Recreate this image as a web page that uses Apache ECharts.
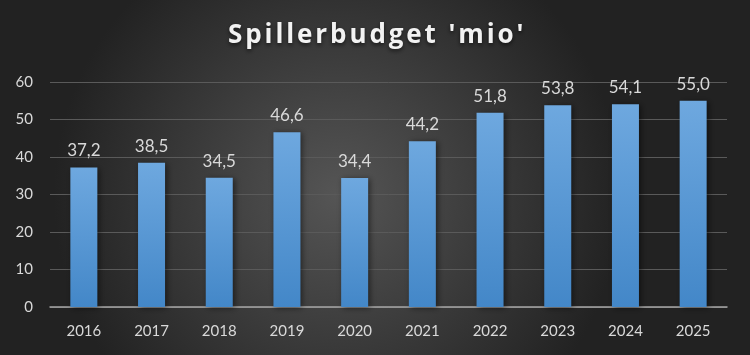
<!DOCTYPE html>
<html>
<head>
<meta charset="utf-8">
<script src="https://cdn.jsdelivr.net/npm/echarts@6/dist/echarts.min.js"></script>
<style>html,body{margin:0;padding:0;}#c{width:750px;height:355px;}</style>
</head>
<body>
<div id="c"></div>
<script>
const categories = ['2016','2017','2018','2019','2020','2021','2022','2023','2024','2025'];
const values = [37.2, 38.5, 34.5, 46.6, 34.4, 44.2, 51.8, 53.8, 54.1, 55.0];
const yTicks = [0, 10, 20, 30, 40, 50, 60];

// widen the title's letter spacing (title is the only text set in Open Sans)
(function () {
  const proto = CanvasRenderingContext2D.prototype;
  const orig = proto.fillText;
  proto.fillText = function (t, x, y, mw) {
    if (this.font && this.font.indexOf('Open Sans') >= 0 && 'letterSpacing' in this) {
      const prev = this.letterSpacing;
      this.letterSpacing = '2.9px';
      const r = mw === undefined ? orig.call(this, t, x, y) : orig.call(this, t, x, y, mw);
      this.letterSpacing = prev;
      return r;
    }
    return mw === undefined ? orig.call(this, t, x, y) : orig.call(this, t, x, y, mw);
  };
})();

const chart = echarts.init(document.getElementById('c'));
chart.setOption({
  backgroundColor: new echarts.graphic.RadialGradient(0.45, 0.55, 0.8, [
    {offset: 0, color: '#555555'},
    {offset: 1, color: '#222222'}
  ]),
  title: {
    text: "Spillerbudget 'mio'",
    left: 223,
    top: 18,
    textStyle: {
      color: '#f2f2f2', fontFamily: 'Open Sans', fontWeight: 'bold', fontSize: 26,
      textShadowColor: 'rgba(0,0,0,0.6)', textShadowBlur: 4, textShadowOffsetY: 2
    }
  },
  grid: {left: 50, right: 23, top: 82, bottom: 48},
  xAxis: {
    type: 'category',
    data: categories,
    axisLine: {lineStyle: {color: '#a6a6a6', width: 1.5}},
    axisTick: {show: false},
    axisLabel: {color: '#d9d9d9', fontFamily: 'Lato', fontSize: 15, margin: 17}
  },
  yAxis: {
    type: 'value',
    min: yTicks[0],
    max: yTicks[yTicks.length - 1],
    interval: 10,
    axisLine: {show: false},
    axisTick: {show: false},
    splitLine: {lineStyle: {color: '#5a5a5a', width: 1}},
    axisLabel: {color: '#d9d9d9', fontFamily: 'Lato', fontSize: 15, margin: 17}
  },
  series: [{
    type: 'bar',
    data: values,
    barWidth: 27,
    itemStyle: {
      color: new echarts.graphic.LinearGradient(0, 0, 0, 1, [
        {offset: 0, color: '#6ea8df'},
        {offset: 1, color: '#4387c8'}
      ]),
      shadowColor: 'rgba(0,0,0,0.5)', shadowBlur: 6, shadowOffsetX: 2, shadowOffsetY: 1
    },
    label: {
      show: true,
      position: 'top',
      distance: 8,
      color: '#d9d9d9',
      fontFamily: 'Lato',
      fontSize: 17,
      formatter: p => p.value.toFixed(1).replace('.', ',')
    }
  }]
});
</script>
</body>
</html>
